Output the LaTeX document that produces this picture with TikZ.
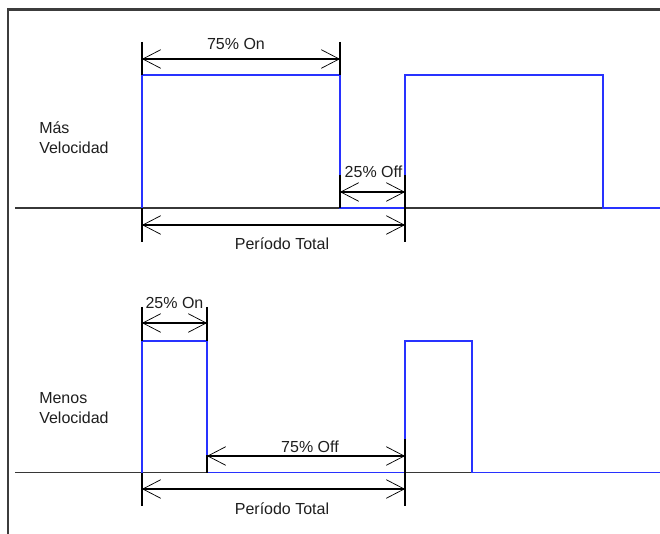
\documentclass[tikz,border=0pt]{standalone}
\usepackage{fontspec}
\setmainfont{Liberation Sans}
\usetikzlibrary{arrows.meta}
\definecolor{sigblue}{RGB}{40,50,255}
\definecolor{axisgray}{RGB}{55,55,55}
\definecolor{framegray}{RGB}{60,60,60}
\definecolor{textgray}{RGB}{30,30,30}
\begin{document}
\begin{tikzpicture}[x=0.75pt,y=-0.75pt,
  sig/.style={draw=sigblue, line width=1.2pt},
  axisline/.style={draw=axisgray, line width=1.3pt},
  frameline/.style={draw=framegray, line width=1.6pt},
  ext/.style={draw=black, line width=0.9pt},
  dimline/.style={draw=black, line width=0.9pt,
    {Straight Barb[length=13.5pt,width=14pt,line width=0.55pt]}-{Straight Barb[length=13.5pt,width=14pt,line width=0.55pt]}},
  lbl/.style={font=\fontsize{12}{15}\selectfont, text=textgray, inner sep=0pt},
  sidelbl/.style={lbl, align=left, anchor=west}]
\useasboundingbox (0,0) rectangle (660,534);
% frame
\coordinate (fTL) at (8,9.5);
\coordinate (fTR) at (660,9.5);
\coordinate (fBL) at (8,534);
\draw[frameline] (fTR) -- (fTL) -- (fBL);

% ---------- top waveform ----------
\coordinate (aL) at (15,208);
\coordinate (aR) at (660,208);
\draw[axisline] (aL) -- (aR);
\coordinate (t1) at (142,208);
\coordinate (t2) at (142,75);
\coordinate (t3) at (340,75);
\coordinate (t4) at (340,208);
\coordinate (t5) at (405,208);
\coordinate (t6) at (405,75);
\coordinate (t7) at (603,75);
\coordinate (t8) at (603,208);
\coordinate (t9) at (660,208);
\draw[sig] (t1) -- (t2) -- (t3) -- (t4) -- (t5) -- (t6) -- (t7) -- (t8) -- (t9);

% 75% On
\coordinate (e1a) at (142,42); \coordinate (e1b) at (142,75);
\coordinate (e2a) at (340,42); \coordinate (e2b) at (340,75);
\draw[ext] (e1a) -- (e1b);
\draw[ext] (e2a) -- (e2b);
\coordinate (d1a) at (142,59); \coordinate (d1b) at (340,59);
\draw[dimline] (d1a) -- (d1b);
\node[lbl] (on75) at (236,44) {75\% On};

% 25% Off
\coordinate (e3a) at (340,175); \coordinate (e3b) at (340,208);
\coordinate (e4a) at (405,175); \coordinate (e4b) at (405,208);
\draw[ext] (e3a) -- (e3b);
\draw[ext] (e4a) -- (e4b);
\coordinate (d2a) at (340,192); \coordinate (d2b) at (405,192);
\draw[dimline] (d2a) -- (d2b);
\node[lbl] (off25) at (373.5,172) {25\% Off};

% Periodo total (top)
\coordinate (e5a) at (142,208); \coordinate (e5b) at (142,242);
\coordinate (e6a) at (405,208); \coordinate (e6b) at (405,242);
\draw[ext] (e5a) -- (e5b);
\draw[ext] (e6a) -- (e6b);
\coordinate (d3a) at (142,225); \coordinate (d3b) at (405,225);
\draw[dimline] (d3a) -- (d3b);
\node[lbl] (pt1) at (282,244) {Período Total};

\node[sidelbl] (mas) at (39,138) {Más\\Velocidad};

% ---------- bottom waveform ----------
\coordinate (bL) at (15,472.5);
\coordinate (bR) at (660,472.5);
\draw[axisline] (bL) -- (bR);
\coordinate (b1) at (142,472.5);
\coordinate (b2) at (142,341);
\coordinate (b3) at (207,341);
\coordinate (b4) at (207,472.5);
\coordinate (b5) at (405,472.5);
\coordinate (b6) at (405,341);
\coordinate (b7) at (472,341);
\coordinate (b8) at (472,472.5);
\coordinate (b9) at (660,472.5);
\draw[sig] (b1) -- (b2) -- (b3) -- (b4) -- (b5) -- (b6) -- (b7) -- (b8) -- (b9);

% 25% On
\coordinate (f1a) at (142,307); \coordinate (f1b) at (142,341);
\coordinate (f2a) at (207,307); \coordinate (f2b) at (207,341);
\draw[ext] (f1a) -- (f1b);
\draw[ext] (f2a) -- (f2b);
\coordinate (g1a) at (142,323); \coordinate (g1b) at (207,323);
\draw[dimline] (g1a) -- (g1b);
\node[lbl] (on25) at (174.5,303) {25\% On};

% 75% Off
\coordinate (f3a) at (207,455); \coordinate (f3b) at (207,472.5);
\coordinate (f4a) at (405,439); \coordinate (f4b) at (405,472.5);
\draw[ext] (f3a) -- (f3b);
\draw[ext] (f4a) -- (f4b);
\coordinate (g2a) at (207,456); \coordinate (g2b) at (405,456);
\draw[dimline] (g2a) -- (g2b);
\node[lbl] (off75) at (310,447) {75\% Off};

% Periodo total (bottom)
\coordinate (f5a) at (142,472.5); \coordinate (f5b) at (142,506);
\coordinate (f6a) at (405,472.5); \coordinate (f6b) at (405,506);
\draw[ext] (f5a) -- (f5b);
\draw[ext] (f6a) -- (f6b);
\coordinate (g3a) at (142,489); \coordinate (g3b) at (405,489);
\draw[dimline] (g3a) -- (g3b);
\node[lbl] (pt2) at (282,509) {Período Total};

\node[sidelbl] (menos) at (39,408) {Menos\\Velocidad};
\end{tikzpicture}
\end{document}
